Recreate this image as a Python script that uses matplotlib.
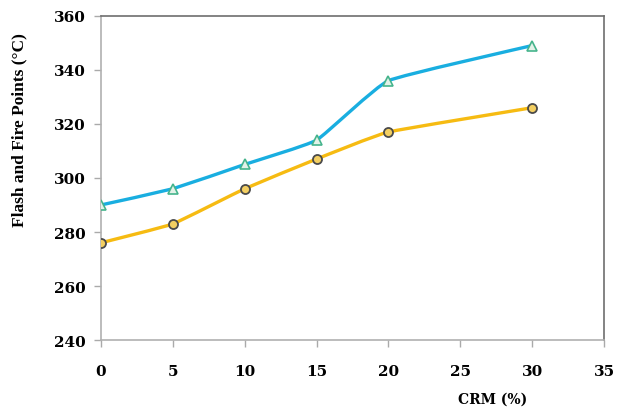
import matplotlib
matplotlib.use("Agg")
import matplotlib.pyplot as plt
import numpy as np
from matplotlib.path import Path
from matplotlib.patches import PathPatch

crm = [0, 5, 10, 15, 20, 30]
fire_point = [290, 296, 305, 314, 336, 349]
flash_point = [276, 283, 296, 307, 317, 326]
x_ticks = [0, 5, 10, 15, 20, 25, 30, 35]
y_ticks = [240, 260, 280, 300, 320, 340, 360]


def smooth_path(xs, ys, tension=0.18):
    """Lightly smoothed cubic Bezier path through the given points."""
    pts = np.column_stack([xs, ys]).astype(float)
    n = len(pts)
    verts = [pts[0]]
    codes = [Path.MOVETO]
    for i in range(n - 1):
        p0 = pts[i - 1] if i > 0 else pts[i]
        p1 = pts[i]
        p2 = pts[i + 1]
        p3 = pts[i + 2] if i + 2 < n else pts[i + 1]
        c1 = p1 + (p2 - p0) * tension / 3.0
        c2 = p2 - (p3 - p1) * tension / 3.0
        verts += [c1, c2, p2]
        codes += [Path.CURVE4] * 3
    return Path(verts, codes)


plt.rcParams["font.family"] = ["DejaVu Serif"]
fig = plt.figure(figsize=(6.3, 4.1), dpi=100)
ax = fig.add_axes([0.160, 0.168, 0.799, 0.791])

ax.add_patch(PathPatch(smooth_path(crm, fire_point), fill=False,
                       edgecolor="#19aee0", lw=2.4, zorder=3))
ax.add_patch(PathPatch(smooth_path(crm, flash_point), fill=False,
                       edgecolor="#f6bb12", lw=2.4, zorder=3))
ax.plot(crm, fire_point, ls="none", marker="^", ms=7, mfc="#e3f2e8",
        mec="#45b48c", mew=1.2, zorder=4)
ax.plot(crm, flash_point, ls="none", marker="o", ms=6.5, mfc="#f3cf62",
        mec="#4a4a4a", mew=1.3, zorder=4)

ax.set_xlim(0, 35)
ax.set_ylim(240, 360)
ax.set_xticks(x_ticks)
ax.set_yticks(y_ticks)
ax.tick_params(axis="both", direction="out", length=5, width=1,
               color="#aaaaaa", labelsize=11, pad=6)
for lab in ax.get_xticklabels() + ax.get_yticklabels():
    lab.set_fontweight("bold")
ax.tick_params(axis="x", pad=12)

for side in ("left", "bottom"):
    ax.spines[side].set_color("#b0b0b0")
    ax.spines[side].set_linewidth(1.2)
for side in ("top", "right"):
    ax.spines[side].set_color("#6e6e6e")
    ax.spines[side].set_linewidth(1.2)

fig.text(0.030, 0.682, "Flash and Fire Points (°C)", rotation=90,
         ha="center", va="center", fontsize=12.5, fontweight="bold",
         family="Liberation Serif")
fig.text(0.782, 0.025, "CRM (%)", ha="center", va="center",
         fontsize=10, fontweight="bold")

fig.savefig("out.png", dpi=100)
